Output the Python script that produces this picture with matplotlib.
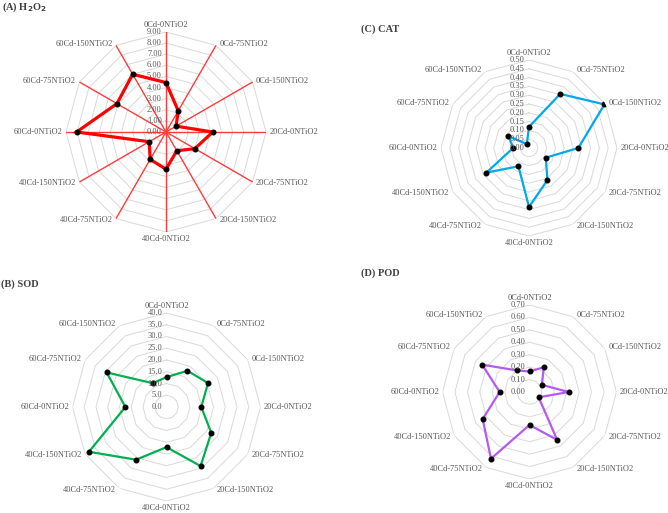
import numpy as np
import matplotlib
matplotlib.use("Agg")
import matplotlib.pyplot as plt

plt.rcParams['font.family'] = ['Liberation Serif', 'DejaVu Serif']

categories = ['0Cd-0NTiO2', '0Cd-75NTiO2', '0Cd-150NTiO2',
              '20Cd-0NTiO2', '20Cd-75NTiO2', '20Cd-150NTiO2',
              '40Cd-0NTiO2', '40Cd-75NTiO2', '40Cd-150NTiO2',
              '60Cd-0NTiO2', '60Cd-75NTiO2', '60Cd-150NTiO2']

h2o2 = [4.45, 2.2, 1.05, 4.2, 3.0, 1.95, 3.35, 2.85, 1.75, 8.05, 5.1, 6.0]
sod = [12.7, 17.8, 20.4, 14.8, 22.0, 29.0, 17.1, 25.9, 38.1, 17.5, 29.4, 11.7]
cat = [0.12, 0.355, 0.495, 0.28, 0.11, 0.21, 0.335, 0.12, 0.28, 0.09, 0.135, 0.025]
pod = [0.165, 0.23, 0.115, 0.315, 0.085, 0.445, 0.265, 0.62, 0.435, 0.24, 0.44, 0.20]

# ring ticks per panel
h2o2_ticks = np.arange(0, 9.01, 1.0)
sod_ticks = np.arange(0, 40.1, 5.0)
cat_ticks = np.arange(0, 0.501, 0.05)
pod_ticks = np.arange(0, 0.701, 0.1)

W, H = 668, 513
fig = plt.figure(figsize=(W / 100, H / 100), dpi=100)

grey = '#D9D9D9'
txt = '#595959'


def radar(cx, cy, rad, values, ticks, fmt, color, lw, title, title_xy, spokes=None):
    ax = fig.add_axes([(cx - rad) / W, (H - cy - rad) / H, 2 * rad / W, 2 * rad / H],
                      projection='polar')
    ax.set_theta_zero_location('N')
    ax.set_theta_direction(-1)
    rmax = ticks[-1]
    ax.set_ylim(0, rmax)
    ax.set_xticks([])
    ax.set_yticks([])
    ax.grid(False)
    for sp in ax.spines.values():
        sp.set_visible(False)
    ax.patch.set_alpha(0)

    n = len(categories)
    theta = np.arange(n) * 2 * np.pi / n
    tc = np.append(theta, theta[0])

    # polygon rings
    for t in ticks[1:]:
        ax.plot(tc, [t] * (n + 1), color=grey, lw=0.7, zorder=1)
    if spokes:
        for th in theta:
            ax.plot([th, th], [0, rmax], color=spokes, lw=1.0, zorder=2)

    vals = np.append(values, values[0])
    ax.plot(tc, vals, color=color, lw=lw, zorder=3, solid_joinstyle='miter')
    ax.plot(theta, values, 'o', color='black', ms=3.3, zorder=4)

    for t in ticks:
        ax.annotate(fmt.format(t), xy=(0, t), xytext=(-3, 0), textcoords='offset points',
                    ha='right', va='center', fontsize=6.0, color=txt, zorder=5,
                    annotation_clip=False)

    for th, lab in zip(theta, categories):
        s, c = np.sin(th), np.cos(th)
        if abs(s) < 0.01:
            ha = 'center'
            va = 'bottom' if c > 0 else 'top'
            off = (0, 2.5 * np.sign(c))
        else:
            ha = 'left' if s > 0 else 'right'
            va = 'center'
            off = (2.5 * np.sign(s), 1.5 * c)
        ax.annotate(lab, xy=(th, rmax), xytext=off, textcoords='offset points',
                    ha=ha, va=va, fontsize=6.0, color=txt, annotation_clip=False)

    fig.text(title_xy[0] / W, 1 - title_xy[1] / H, title, fontsize=7.5,
             fontweight='bold', color='#404040', ha='left', va='center')
    return ax


radar(166, 132, 100, h2o2, h2o2_ticks, '{:.2f}', '#FF0000', 2.3,
      '(A) H$_\\mathbf{2}$O$_\\mathbf{2}$', (2, 7), spokes='#FF3B3B')
radar(529, 148, 88, cat, cat_ticks, '{:.2f}', '#00A8EC', 1.6, '(C) CAT', (361, 29))
radar(166.5, 407, 94, sod, sod_ticks, '{:.1f}', '#00B050', 1.6, '(B) SOD', (1, 284))
radar(529.5, 392, 87, pod, pod_ticks, '{:.2f}', '#B45AF0', 1.6, '(D) POD', (361, 273))

fig.savefig('out.png', dpi=100)
